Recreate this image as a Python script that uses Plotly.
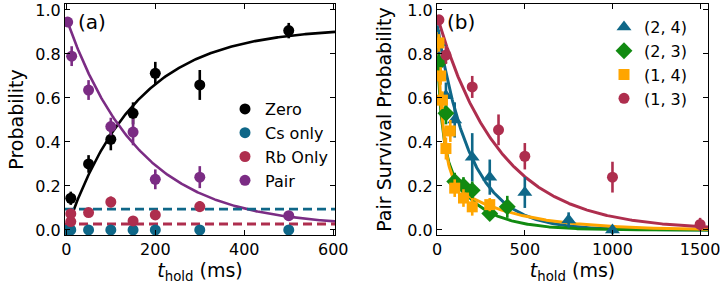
import numpy as np
import plotly.graph_objects as go

# ---------------- Panel (a) data ----------------
t_zero = [10, 50, 100, 150, 200, 300, 500]
p_zero = [0.144, 0.30, 0.412, 0.53, 0.712, 0.659, 0.906]
e_zero = [0.03, 0.04, 0.05, 0.05, 0.052, 0.068, 0.035]

t_cs = [3, 10, 50, 100, 150, 200, 300, 500]
p_cs = [0.0, 0.0, 0.0, 0.0, 0.0, 0.0, 0.0, 0.0]
e_cs = [0.0, 0.0, 0.0, 0.0, 0.0, 0.0, 0.0, 0.0]

t_rb = [10, 10, 50, 100, 150, 200, 300]
p_rb = [0.038, 0.074, 0.079, 0.127, 0.041, 0.068, 0.106]
e_rb = [0.015, 0.02, 0.02, 0.025, 0.015, 0.02, 0.025]

t_pair = [3, 12, 50, 100, 150, 200, 300, 500]
p_pair = [0.945, 0.79, 0.636, 0.47, 0.445, 0.23, 0.24, 0.065]
e_pair = [0.02, 0.045, 0.045, 0.04, 0.06, 0.045, 0.05, 0.02]

# fit parameters (a)
zero_A, zero_tau = 0.92, 157.0
pair_A, pair_tau, pair_c = 0.945, 164.0, 0.015
cs_level = 0.095
rb_level = 0.027

# ---------------- Panel (b) data ----------------
t24 = [10, 50, 100, 200, 300, 500, 750, 1000]
p24 = [0.85, 0.61, 0.50, 0.33, 0.24, 0.17, 0.045, 0.0]
e24 = [0.06, 0.06, 0.08, 0.11, 0.08, 0.07, 0.035, 0.02]

t23 = [10, 50, 100, 150, 200, 300, 400]
p23 = [0.76, 0.53, 0.22, 0.20, 0.18, 0.075, 0.105]
e23 = [0.04, 0.05, 0.04, 0.04, 0.04, 0.03, 0.05]

t14 = [10, 20, 30, 50, 75, 100, 150, 200, 300]
p14 = [0.85, 0.70, 0.59, 0.37, 0.45, 0.19, 0.145, 0.105, 0.115]
e14 = [0.04, 0.04, 0.04, 0.05, 0.05, 0.04, 0.04, 0.04, 0.03]

t13 = [10, 50, 200, 350, 500, 1000, 1500]
p13 = [0.955, 0.795, 0.65, 0.455, 0.335, 0.24, 0.025]
e13 = [0.02, 0.04, 0.05, 0.07, 0.06, 0.07, 0.03]

labels_b = ["(2, 4)", "(2, 3)", "(1, 4)", "(1, 3)"]

# fit parameters (b): sums of exponentials (amplitude, tau)
fit24 = [(0.93, 190.0)]
fit23 = [(0.42, 28.0), (0.38, 192.0)]
fit14 = [(0.65, 33.0), (0.25, 361.0)]
fit13 = [(0.97, 360.0)]

# colours
BLACK = "#000000"
BLUE = "#0f6788"
RED = "#ae2e4e"
PURPLE = "#7b2c84"
GREEN = "#118a11"
ORANGE = "#ffa500"

FONT = "DejaVu Sans"

xa_range = [-3, 604]
xb_range = [-1, 1545]
y_range = [-0.023, 1.027]

ta = np.linspace(0, 604, 300)
tb = np.linspace(0, 1545, 400)


def multi_exp(t, params):
    return sum(a * np.exp(-t / tau) for a, tau in params)


fig = go.Figure()

# ---- panel (a) lines ----
fig.add_trace(go.Scatter(x=ta, y=zero_A * (1 - np.exp(-ta / zero_tau)), mode="lines",
                         line=dict(color=BLACK, width=2.6), showlegend=False,
                         xaxis="x", yaxis="y", hoverinfo="skip"))
fig.add_trace(go.Scatter(x=ta, y=pair_A * np.exp(-ta / pair_tau) + pair_c, mode="lines",
                         line=dict(color=PURPLE, width=2.6), showlegend=False,
                         xaxis="x", yaxis="y", hoverinfo="skip"))
fig.add_trace(go.Scatter(x=[xa_range[0], xa_range[1]], y=[cs_level, cs_level], mode="lines",
                         line=dict(color=BLUE, width=2.8, dash="9px,5px"), showlegend=False,
                         xaxis="x", yaxis="y", hoverinfo="skip"))
fig.add_trace(go.Scatter(x=[xa_range[0], xa_range[1]], y=[rb_level, rb_level], mode="lines",
                         line=dict(color=RED, width=2.8, dash="9px,5px"), showlegend=False,
                         xaxis="x", yaxis="y", hoverinfo="skip"))


def pts(x, y, e, color, name, symbol="circle", size=11, legend="legend", xaxis="x", yaxis="y"):
    return go.Scatter(x=x, y=y, mode="markers", name=name,
                      marker=dict(color=color, size=size, symbol=symbol, line=dict(width=0)),
                      error_y=dict(type="data", array=e, visible=True, color=color,
                                   thickness=2.6, width=0),
                      legend=legend, xaxis=xaxis, yaxis=yaxis)


fig.add_trace(pts(t_zero, p_zero, e_zero, BLACK, "Zero"))
fig.add_trace(pts(t_cs, p_cs, e_cs, BLUE, "Cs only"))
fig.add_trace(pts(t_rb, p_rb, e_rb, RED, "Rb Only"))
fig.add_trace(pts(t_pair, p_pair, e_pair, PURPLE, "Pair"))

# ---- panel (b) lines ----
for params, col in [(fit24, BLUE), (fit23, GREEN), (fit14, ORANGE), (fit13, RED)]:
    fig.add_trace(go.Scatter(x=tb, y=multi_exp(tb, params), mode="lines",
                             line=dict(color=col, width=3), showlegend=False,
                             xaxis="x2", yaxis="y2", hoverinfo="skip"))

fig.add_trace(pts(t24, p24, e24, BLUE, labels_b[0], "triangle-up", 13, "legend2", "x2", "y2"))
fig.add_trace(pts(t23, p23, e23, GREEN, labels_b[1], "diamond", 13, "legend2", "x2", "y2"))
fig.add_trace(pts(t14, p14, e14, ORANGE, labels_b[2], "square", 11, "legend2", "x2", "y2"))
fig.add_trace(pts(t13, p13, e13, RED, labels_b[3], "circle", 11, "legend2", "x2", "y2"))

W, H = 723, 284
ML, MR, MT, MB = 65, 15, 4, 49
PW = W - ML - MR
PH = H - MT - MB


def dom(a, b):
    return [(a - ML) / PW, (b - ML) / PW]


def px(xp):
    return (xp - ML) / PW


def py(yp):
    return (H - MB - yp) / PH


axis_common = dict(showline=True, linecolor="black", linewidth=1, mirror="allticks",
                   ticks="inside", ticklen=5, tickwidth=1, tickcolor="black",
                   showgrid=False, zeroline=False, automargin=False,
                   tickfont=dict(family=FONT, size=16, color="black"))

xtitle = dict(text="<i>t</i><sub>hold</sub> (ms)", font=dict(family=FONT, size=19, color="black"),
              standoff=4)

fig.update_layout(
    width=W, height=H,
    margin=dict(l=ML, r=MR, t=MT, b=MB, autoexpand=False),
    paper_bgcolor="white", plot_bgcolor="white",
    font=dict(family=FONT, color="black"),
    xaxis=dict(domain=dom(65, 335), range=xa_range, tickvals=[0, 200, 400, 600],
               title=xtitle, anchor="y", **axis_common),
    yaxis=dict(domain=[0, 1], range=y_range, tickvals=[0, 0.2, 0.4, 0.6, 0.8, 1.0],
               tickformat=".1f", title=dict(text="Probability", font=dict(family=FONT, size=19),
                                            standoff=6), anchor="x", **axis_common),
    xaxis2=dict(domain=dom(437, 708), range=xb_range, tickvals=[0, 500, 1000, 1500],
                title=xtitle, anchor="y2", **axis_common),
    yaxis2=dict(domain=[0, 1], range=y_range, tickvals=[0, 0.2, 0.4, 0.6, 0.8, 1.0],
                tickformat=".1f", title=dict(text="Pair Survival Probability",
                                             font=dict(family=FONT, size=19), standoff=10),
                anchor="x2", **axis_common),
    legend=dict(x=px(225), y=py(92), xanchor="left", yanchor="top",
                bgcolor="rgba(0,0,0,0)", font=dict(family=FONT, size=16), tracegroupgap=0,
                itemwidth=30),
    legend2=dict(x=px(604), y=py(10), xanchor="left", yanchor="top",
                 bgcolor="rgba(0,0,0,0)", font=dict(family=FONT, size=16), tracegroupgap=0,
                 itemwidth=30),
    annotations=[
        dict(text="(a)", x=px(76), y=py(22), xref="paper", yref="paper", xanchor="left",
             yanchor="middle", showarrow=False, font=dict(family=FONT, size=20, color="black")),
        dict(text="(b)", x=px(445), y=py(22), xref="paper", yref="paper", xanchor="left",
             yanchor="middle", showarrow=False, font=dict(family=FONT, size=20, color="black")),
    ],
)

fig.write_html("out.html", config={"displayModeBar": False},
               post_script="document.body.style.margin='0px';")
